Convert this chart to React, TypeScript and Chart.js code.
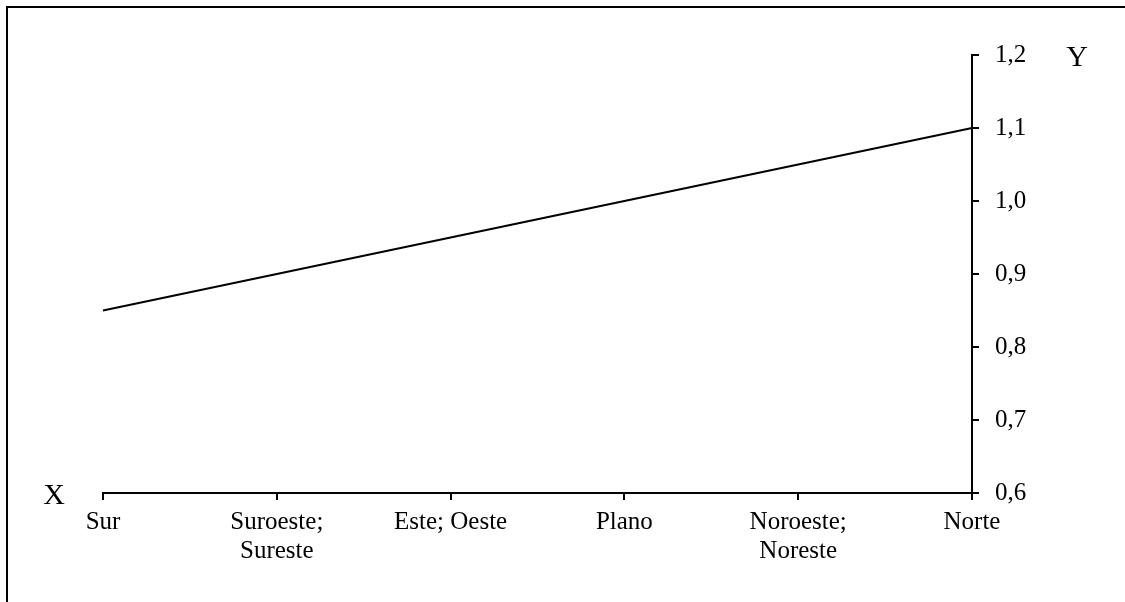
import React, { useEffect, useRef } from "react";
import { Chart, registerables } from "chart.js";

Chart.register(...registerables);

const categories: (string | string[])[] = [
  "Sur",
  ["Suroeste;", "Sureste"],
  "Este; Oeste",
  "Plano",
  ["Noroeste;", "Noreste"],
  "Norte",
];
const values: number[] = [0.85, 0.9, 0.95, 1.0, 1.05, 1.1];
const yMin = 0.6;
const yMax = 1.2;
const yStep = 0.1;
const xTitle = "X";
const yTitle = "Y";

const FONT = "'Liberation Serif', 'Times New Roman', serif";

const decorPlugin = {
  id: "decor",
  afterDraw(chart: any) {
    const { ctx, chartArea } = chart;
    ctx.save();
    ctx.strokeStyle = "#000";
    ctx.lineWidth = 2;
    ctx.beginPath();
    ctx.moveTo(7, chart.height);
    ctx.lineTo(7, 7);
    ctx.lineTo(chart.width, 7);
    ctx.stroke();
    ctx.fillStyle = "#000";
    ctx.font = `30px ${FONT}`;
    ctx.textAlign = "center";
    ctx.textBaseline = "middle";
    ctx.fillText(yTitle, chartArea.right + 105, chartArea.top + 3);
    ctx.fillText(xTitle, chartArea.left - 49, chartArea.bottom + 3);
    ctx.restore();
  },
};

export default function App() {
  const ref = useRef<HTMLCanvasElement | null>(null);
  useEffect(() => {
    if (!ref.current) return;
    const chart = new Chart(ref.current, {
      type: "line",
      data: {
        labels: categories,
        datasets: [
          {
            data: values,
            borderColor: "#000",
            borderWidth: 2,
            pointRadius: 0,
            tension: 0,
            fill: false,
          },
        ],
      },
      options: {
        animation: false,
        responsive: false,
        maintainAspectRatio: false,
        layout: { padding: { left: 103, top: 55, right: 0, bottom: 0 } },
        plugins: { legend: { display: false }, tooltip: { enabled: false } },
        scales: {
          x: {
            type: "category",
            offset: false,
            grid: {
              display: true,
              drawOnChartArea: false,
              drawTicks: true,
              tickLength: 7,
              color: "#000",
              lineWidth: 2,
            },
            border: { display: true, color: "#000", width: 2 },
            ticks: {
              color: "#000",
              font: { family: FONT, size: 25, lineHeight: 1.15 },
              padding: 8,
              maxRotation: 0,
              autoSkip: false,
            },
            afterFit(scale: any) {
              scale.height = 109;
            },
          },
          y: {
            position: "right",
            min: yMin,
            max: yMax,
            grid: {
              display: true,
              drawOnChartArea: false,
              drawTicks: true,
              tickLength: 7,
              color: "#000",
              lineWidth: 2,
            },
            border: { display: true, color: "#000", width: 2 },
            ticks: {
              stepSize: yStep,
              color: "#000",
              font: { family: FONT, size: 25 },
              padding: 16,
              callback: (v: any) => Number(v).toFixed(1).replace(".", ","),
            },
            afterFit(scale: any) {
              scale.width = 153;
            },
          },
        },
      },
      plugins: [decorPlugin],
    });
    return () => chart.destroy();
  }, []);
  return (
    <div style={{ position: "fixed", left: 0, top: 0, width: 1125, height: 602, background: "#fff" }}>
      <canvas ref={ref} width={1125} height={602} style={{ display: "block" }} />
    </div>
  );
}
